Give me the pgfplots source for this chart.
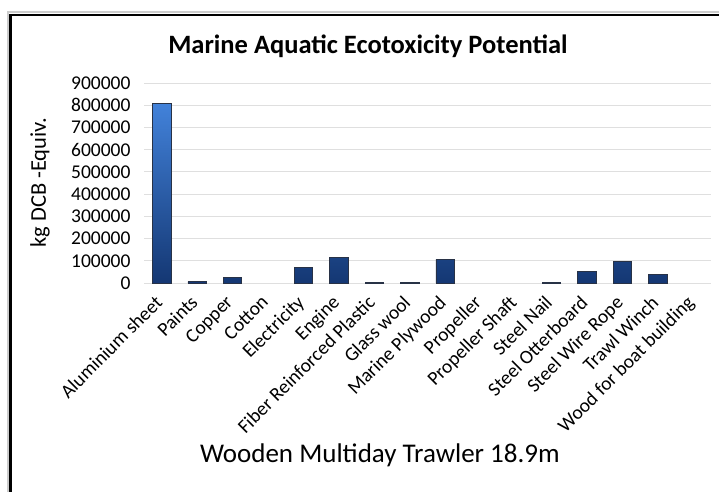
\documentclass[border=0pt]{standalone}
\usepackage{pgfplots}
\pgfplotsset{compat=1.18}
\usepackage{fontspec}
\setmainfont{Carlito}

\definecolor{barbot}{RGB}{20,55,115}
\definecolor{bartop}{RGB}{66,130,218}
\definecolor{baredge}{RGB}{40,50,70}

\begin{document}
\begin{tikzpicture}
    \path[use as bounding box] (0bp,0bp) rectangle (719bp,-492bp);
    % outer frame (cut off at right and bottom)
    \draw[gray!40, line width=2bp] (7.5bp,-520bp) -- (7.5bp,-12bp) -- (740bp,-12bp);
    \draw[black, line width=2.5bp] (10.5bp,-520bp) -- (10.5bp,-15bp) -- (740bp,-15bp);

    \begin{axis}[
        at={(144bp,-283bp)}, anchor=south west,
        scale only axis,
        width=567bp, height=200bp,
        xmin=-0.5, xmax=15.5,
        ymin=0, ymax=900000,
        xtick={0,...,15},
        xticklabels={Aluminium sheet, Paints, Copper, Cotton, Electricity, Engine,
            Fiber Reinforced Plastic, Glass wool, Marine Plywood, Propeller,
            Propeller Shaft, Steel Nail, Steel Otterboard, Steel Wire Rope,
            Trawl Winch, Wood for boat building},
        ytick={0,100000,...,900000},
        scaled y ticks=false,
        yticklabel style={/pgf/number format/fixed, /pgf/number format/1000 sep={},
            /pgf/number format/assume math mode=true,
            font=\fontsize{19.5bp}{22bp}\selectfont, xshift=-10bp},
        xticklabel style={rotate=45, anchor=north east,
            font=\fontsize{19.5bp}{22bp}\selectfont, xshift=-7bp, yshift=4bp},
        axis line style={draw=none},
        tick style={draw=none},
        ymajorgrids,
        grid style={gray!25, line width=1bp},
        title={\textbf{Marine Aquatic Ecotoxicity Potential}},
        title style={at={(0.395,1)}, anchor=center, yshift=31bp,
            font=\fontsize{26.5bp}{30bp}\selectfont},
        xlabel={Wooden Multiday Trawler 18.9m},
        xlabel style={at={(0.416,0)}, anchor=center, yshift=-172bp,
            font=\fontsize{27bp}{31bp}\selectfont},
        ylabel={kg DCB -Equiv.},
        ylabel style={at={(-0.1834,0.5)}, anchor=center,
            font=\fontsize{22.5bp}{26bp}\selectfont},
        ybar,
        bar width=18.5bp,
        clip=false,
    ]
        \addplot[draw=baredge, line width=0.8bp, bottom color=barbot, top color=bartop]
        coordinates {
            (0, 810000)
            (1, 6000)
            (2, 26000)
            (4, 72000)
            (5, 113000)
            (6, 4000)
            (7, 4000)
            (8, 106000)
            (11, 3000)
            (12, 50000)
            (13, 95000)
            (14, 40000)
        };
    \end{axis}
\end{tikzpicture}
\end{document}
